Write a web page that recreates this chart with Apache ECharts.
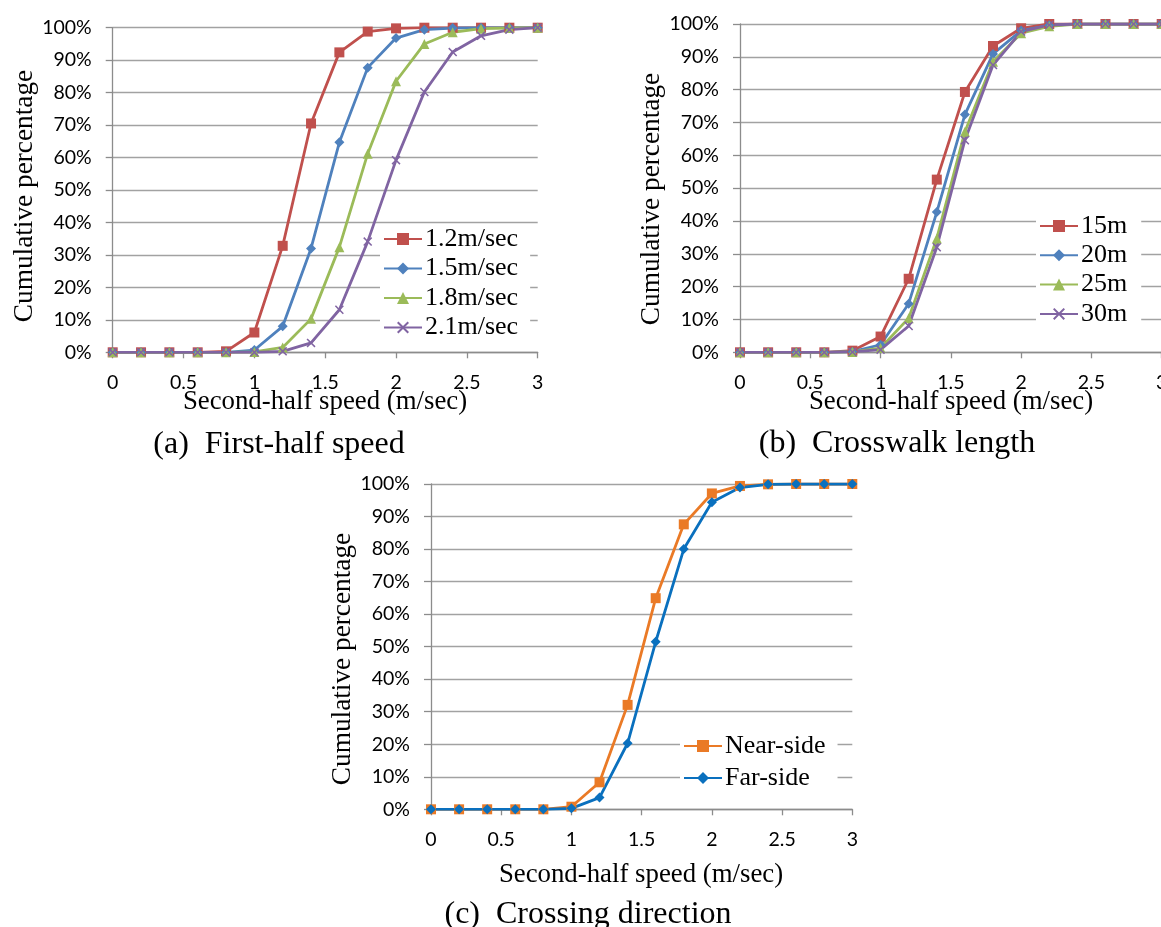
<!DOCTYPE html>
<html>
<head>
<meta charset="utf-8">
<script src="https://cdn.jsdelivr.net/npm/echarts@6/dist/echarts.min.js"></script>
<style>
html,body{margin:0;padding:0;background:#fff;}
#chart{width:1161px;height:927px;}
</style>
</head>
<body>
<div id="chart"></div>
<script>
// x values (second-half speed, m/sec)
const speeds = [0, 0.2, 0.4, 0.6, 0.8, 1.0, 1.2, 1.4, 1.6, 1.8, 2.0, 2.2, 2.4, 2.6, 2.8, 3.0];
const xTicks = [0, 0.5, 1, 1.5, 2, 2.5, 3];

// (a) First-half speed
const namesA = ['1.2m/sec', '1.5m/sec', '1.8m/sec', '2.1m/sec'];
const a12 = [0, 0, 0, 0, 0.3, 6.1, 32.8, 70.5, 92.4, 98.8, 99.8, 100, 100, 100, 100, 100];
const a15 = [0, 0, 0, 0, 0, 0.7, 8.0, 32.0, 64.7, 87.7, 96.8, 99.4, 99.9, 100, 100, 100];
const a18 = [0, 0, 0, 0, 0, 0.1, 1.5, 10.3, 32.4, 61.2, 83.5, 95.0, 98.6, 99.7, 99.9, 100];
const a21 = [0, 0, 0, 0, 0, 0, 0.3, 2.9, 13.1, 34.1, 59.2, 80.2, 92.5, 97.5, 99.4, 100];

// (b) Crosswalk length
const namesB = ['15m', '20m', '25m', '30m'];
const b15 = [0, 0, 0, 0, 0.5, 4.8, 22.4, 52.6, 79.3, 93.3, 98.7, 100, 100, 100, 100, 100];
const b20 = [0, 0, 0, 0, 0.2, 2.3, 14.8, 42.7, 72.4, 90.9, 98.0, 99.6, 100, 100, 100, 100];
const b25 = [0, 0, 0, 0, 0.1, 1.3, 10.4, 34.7, 67.2, 88.5, 97.2, 99.3, 100, 100, 100, 100];
const b30 = [0, 0, 0, 0, 0.1, 0.8, 8.0, 32.0, 64.6, 87.5, 97.7, 99.7, 100, 100, 100, 100];

// (c) Crossing direction
const namesC = ['Near-side', 'Far-side'];
const cNear = [0, 0, 0, 0, 0, 0.8, 8.3, 32.1, 64.9, 87.6, 97.1, 99.4, 99.9, 100, 100, 100];
const cFar = [0, 0, 0, 0, 0, 0.3, 3.6, 20.3, 51.5, 80.0, 94.4, 98.9, 99.9, 100, 100, 100];

const yTickLabels = ['0%','10%','20%','30%','40%','50%','60%','70%','80%','90%','100%'];

const colorsABCD = ['#C0504D', '#4F81BD', '#9BBB59', '#8064A2'];
const colorsC = ['#EA7A26', '#0A70BE'];
const crossPath = 'path://M0,1.2L1.2,0L5,3.8L8.8,0L10,1.2L6.2,5L10,8.8L8.8,10L5,6.2L1.2,10L0,8.8L3.8,5Z';
const symbols = ['rect', 'diamond', 'triangle', crossPath];
const symbolSizes = [10, 10, 10, 9];

const tickFont = 'Lato, "Open Sans", sans-serif';
const serif = '"Liberation Serif", "DejaVu Serif", serif';
const gridGray = '#A2A2A2';
const axisGray = '#8C8C8C';

function pairs(vals) { return speeds.map((x, i) => [x, vals[i]]); }

const grids = [
  { left: 112.7, top: 27.7, width: 425, height: 324.6, outerBoundsMode: 'none' },
  { left: 740, top: 24, width: 421.7, height: 328.3, outerBoundsMode: 'none' },
  { left: 431, top: 484, width: 421.3, height: 325.3, outerBoundsMode: 'none' }
];

function xAxisFor(i) {
  return {
    type: 'value', gridIndex: i, min: 0, max: 3, interval: 0.5,
    axisLine: { show: true, lineStyle: { color: axisGray, width: 1.3 } },
    axisTick: { show: true, length: 6, lineStyle: { color: axisGray, width: 1.3 } },
    splitLine: { show: false },
    axisLabel: { margin: 20, color: '#000', fontFamily: tickFont, fontSize: 19.5,
      showMaxLabel: true, showMinLabel: true,
      formatter: v => { const k = xTicks.indexOf(v); return k >= 0 ? String(xTicks[k]) : String(v); } }
  };
}
function yAxisFor(i) {
  return {
    type: 'value', gridIndex: i, min: 0, max: 100, interval: 10,
    axisLine: { show: true, lineStyle: { color: axisGray, width: 1.3 } },
    axisTick: { show: true, length: 7, lineStyle: { color: axisGray, width: 1.3 } },
    splitLine: { show: true, lineStyle: { color: gridGray, width: 1.4 } },
    axisLabel: { margin: 21, color: '#000', fontFamily: tickFont, fontSize: 19.5,
      formatter: v => yTickLabels[Math.round(v / 10)] }
  };
}

function lineSeries(name, vals, idx, color, symbol, size) {
  return {
    type: 'line', name: name, data: pairs(vals),
    xAxisIndex: idx, yAxisIndex: idx,
    symbol: symbol, symbolSize: size, showSymbol: true,
    lineStyle: { color: color, width: 2.8 },
    itemStyle: { color: color },
    emphasis: { disabled: true },
    animation: false, z: 3
  };
}

const seriesA = [a12, a15, a18, a21].map((v, k) => lineSeries(namesA[k], v, 0, colorsABCD[k], symbols[k], symbolSizes[k]));
const seriesB = [b15, b20, b25, b30].map((v, k) => lineSeries(namesB[k], v, 1, colorsABCD[k], symbols[k], symbolSizes[k]));
const seriesC = [
  lineSeries(namesC[0], cNear, 2, colorsC[0], 'rect', 10),
  lineSeries(namesC[1], cFar, 2, colorsC[1], 'diamond', 10)
];

function legendFor(names, left, top, gap, rightPad) {
  return {
    data: names, orient: 'vertical', left: left, top: top,
    itemGap: gap, itemWidth: 38, itemHeight: 15,
    backgroundColor: '#ffffff', padding: [2, rightPad, 2, 3],
    selectedMode: false,
    textStyle: { fontFamily: serif, fontSize: 26, color: '#000', lineHeight: 26, padding: [0, 0, 0, -2] }
  };
}

function text(x, y, str, size, rotate) {
  return {
    type: 'text', x: x, y: y, rotation: rotate ? Math.PI / 2 : 0, z: 10,
    style: { text: str, fill: '#000', font: size + 'px ' + serif, align: 'center', verticalAlign: 'middle' }
  };
}

const chart = echarts.init(document.getElementById('chart'), null, { renderer: 'canvas' });
chart.setOption({
  backgroundColor: '#ffffff',
  animation: false,
  grid: grids,
  xAxis: [xAxisFor(0), xAxisFor(1), xAxisFor(2)],
  yAxis: [yAxisFor(0), yAxisFor(1), yAxisFor(2)],
  legend: [
    legendFor(namesA, 380, 224, 3.5, 12),
    legendFor(namesB, 1036, 211, 3.3, 14),
    legendFor(namesC, 680, 731, 6, 12)
  ],
  series: seriesA.concat(seriesB, seriesC),
  graphic: [
    text(325, 402, 'Second-half speed (m/sec)', 26.8, false),
    text(951, 402, 'Second-half speed (m/sec)', 26.8, false),
    text(641, 875, 'Second-half speed (m/sec)', 26.8, false),
    text(25, 196, 'Cumulative percentage', 27.3, true),
    text(652, 199, 'Cumulative percentage', 27.3, true),
    text(343, 659, 'Cumulative percentage', 27.3, true),
    text(279, 445, '(a)  First-half speed', 32, false),
    text(897, 444, '(b)  Crosswalk length', 32, false),
    text(588, 915, '(c)  Crossing direction', 32, false)
  ]
});
</script>
</body>
</html>
